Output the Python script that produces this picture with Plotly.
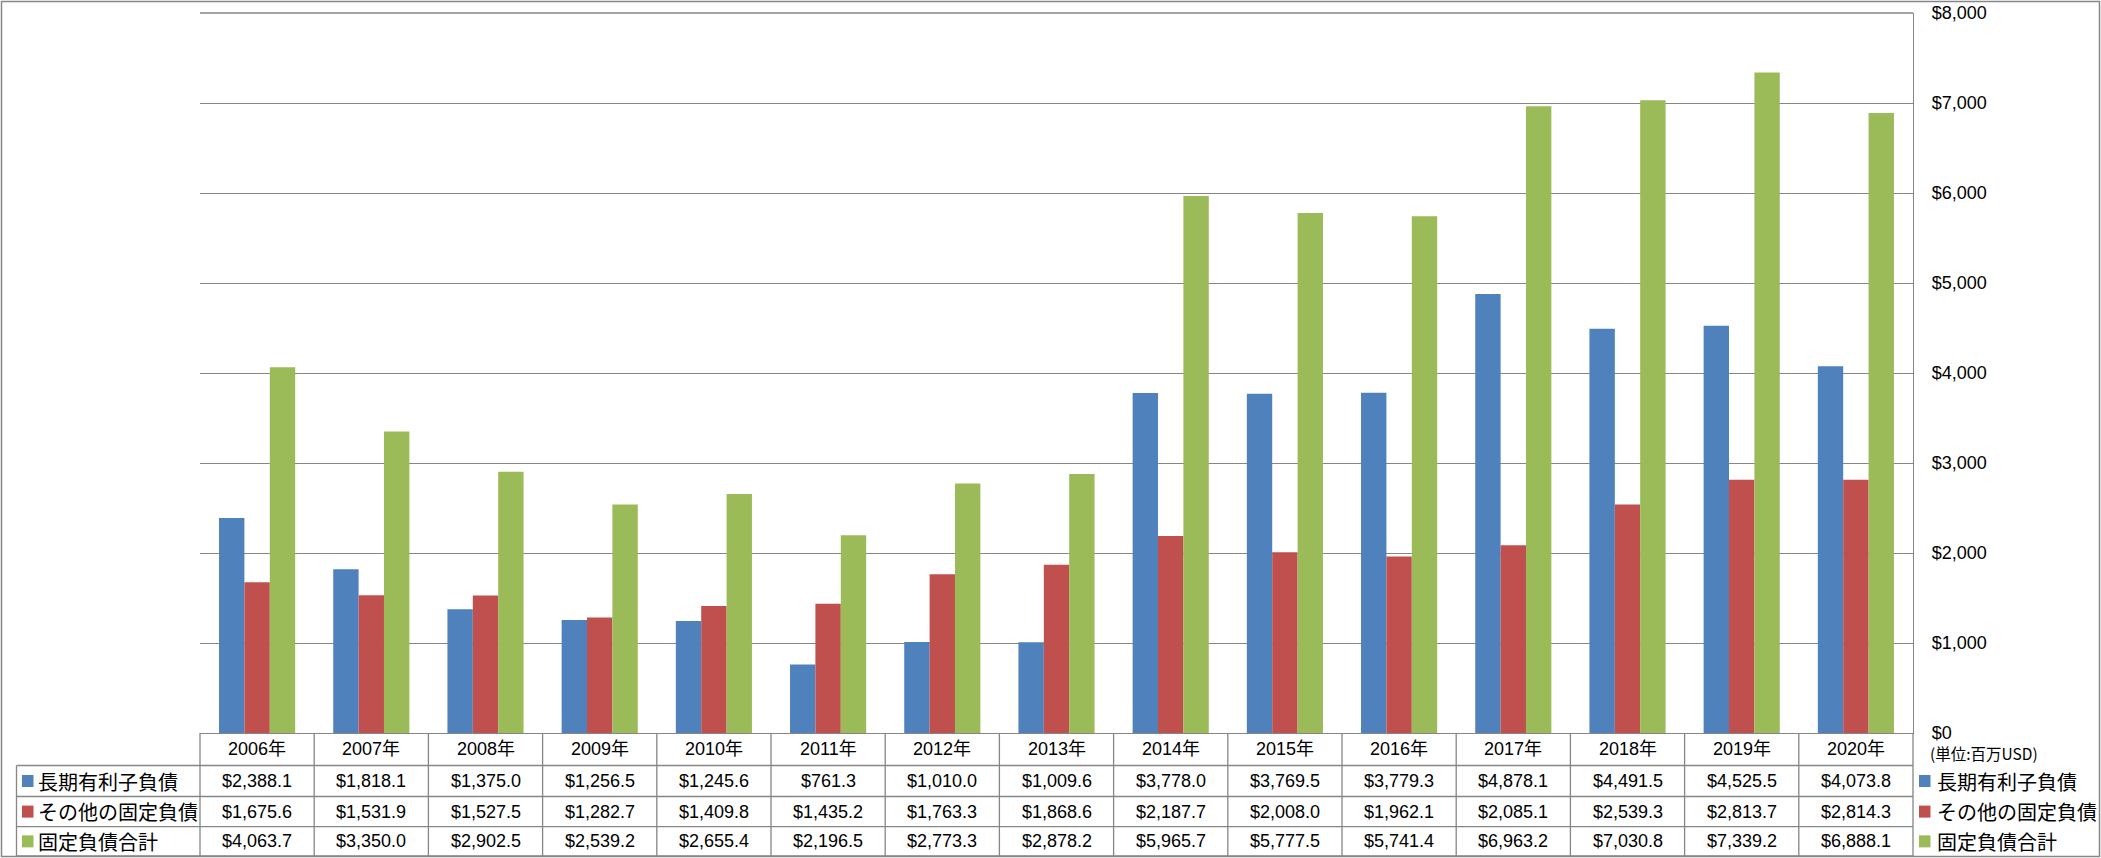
import plotly.graph_objects as go

years = ["2006年", "2007年", "2008年", "2009年", "2010年", "2011年", "2012年", "2013年",
         "2014年", "2015年", "2016年", "2017年", "2018年", "2019年", "2020年"]
series_names = ["長期有利子負債", "その他の固定負債", "固定負債合計"]
long_term_debt = [2388.1, 1818.1, 1375.0, 1256.5, 1245.6, 761.3, 1010.0, 1009.6,
                  3778.0, 3769.5, 3779.3, 4878.1, 4491.5, 4525.5, 4073.8]
other_fixed = [1675.6, 1531.9, 1527.5, 1282.7, 1409.8, 1435.2, 1763.3, 1868.6,
               2187.7, 2008.0, 1962.1, 2085.1, 2539.3, 2813.7, 2814.3]
total_fixed = [4063.7, 3350.0, 2902.5, 2539.2, 2655.4, 2196.5, 2773.3, 2878.2,
               5965.7, 5777.5, 5741.4, 6963.2, 7030.8, 7339.2, 6888.1]
colors = ["#4F81BD", "#C0504D", "#9BBB59"]
unit_label = "(単位:百万USD)"

W, H = 2101, 858
PL, PR, PT, PB = 200, 1913, 13, 733
PW, PH = PR - PL, PB - PT
GRAY = "#868686"
NUM_FONT = "Liberation Sans, Noto Sans CJK JP, sans-serif"
JP_FONT = "Noto Sans CJK JP, sans-serif"


def fx(px):
    return (px - PL) / PW


def fy(py):
    return (PB - py) / PH


fig = go.Figure()
all_series = [long_term_debt, other_fixed, total_fixed]
for name, vals, c in zip(series_names, all_series, colors):
    fig.add_trace(go.Bar(x=years, y=vals, name=name, marker=dict(color=c, line=dict(width=0)),
                         showlegend=False))

# table geometry (pixels)
row_edges = [733, 765.5, 796.5, 826.7, 856]
row_centers = [(row_edges[i] + row_edges[i + 1]) / 2 for i in range(4)]
shapes = []
line = dict(color=GRAY, width=1.3)
# outer border
shapes.append(dict(type="rect", xref="paper", yref="paper", x0=fx(1.5), x1=fx(2099.5),
                   y0=fy(1.5), y1=fy(856.5), line=dict(color=GRAY, width=1.5)))
# top gridline ($8,000) at plot edge
shapes.append(dict(type="line", xref="paper", yref="paper", x0=0, x1=1, y0=1, y1=1, line=line))
# horizontal table lines
for e in row_edges[1:]:
    shapes.append(dict(type="line", xref="paper", yref="paper", x0=fx(16.5), x1=1,
                       y0=fy(e), y1=fy(e), line=line))
# vertical table lines
n = len(years)
for i in range(n + 1):
    shapes.append(dict(type="line", xref="paper", yref="paper", x0=i / n, x1=i / n,
                       y0=0, y1=fy(row_edges[-1]), line=line))
shapes.append(dict(type="line", xref="paper", yref="paper", x0=fx(16.5), x1=fx(16.5),
                   y0=fy(row_edges[1]), y1=fy(row_edges[-1]), line=line))
# legend squares (table row labels and right legend)
for r, c in enumerate(colors):
    yc = row_centers[r + 1]
    for x0 in (22, 1919):
        shapes.append(dict(type="rect", xref="paper", yref="paper", x0=fx(x0), x1=fx(x0 + 11.5),
                           y0=fy(yc - 6), y1=fy(yc + 6), fillcolor=c, line=dict(width=0)))

annotations = []
for yr in years:
    annotations.append(dict(x=yr, xref="x", y=fy(row_centers[0]), yref="paper", text=yr,
                            showarrow=False, xanchor="center", yanchor="middle",
                            font=dict(family=NUM_FONT, size=18, color="black")))
for r, vals in enumerate(all_series):
    for yr, v in zip(years, vals):
        annotations.append(dict(x=yr, xref="x", y=fy(row_centers[r + 1]), yref="paper",
                                text=f"${v:,.1f}", showarrow=False, xanchor="center",
                                yanchor="middle",
                                font=dict(family=NUM_FONT, size=18, color="black")))
    for xpx in (36, 1935):
        annotations.append(dict(x=fx(xpx), xref="paper", y=fy(row_centers[r + 1]), yref="paper",
                                text=series_names[r], showarrow=False, xanchor="left",
                                yanchor="middle",
                                font=dict(family=JP_FONT, size=20, color="black")))
annotations.append(dict(x=fx(1928), xref="paper", y=fy(753), yref="paper", text=unit_label,
                        showarrow=False, xanchor="left", yanchor="middle",
                        font=dict(family=JP_FONT, size=15.5, color="black")))

fig.update_layout(
    width=W, height=H, autosize=False,
    margin=dict(l=PL, r=W - PR, t=PT, b=H - PB, pad=0, autoexpand=False),
    paper_bgcolor="white", plot_bgcolor="white",
    barmode="group", bargap=1 / 3, bargroupgap=0,
    shapes=shapes, annotations=annotations,
    xaxis=dict(type="category", showticklabels=False, showgrid=False, ticks="",
               showline=True, linecolor=GRAY, linewidth=1.3, zeroline=False, automargin=False),
    yaxis=dict(side="right", range=[0, 8000], dtick=1000, tickprefix="$", tickformat=",",
               showgrid=True, gridcolor=GRAY, gridwidth=1.3, zeroline=False,
               showline=True, linecolor=GRAY, linewidth=1.3,
               ticks="outside", ticklen=14, tickcolor="rgba(0,0,0,0)", automargin=False,
               tickfont=dict(family=NUM_FONT, size=18, color="black")),
)

fig.write_html("out.html", config={"displayModeBar": False},
               post_script="document.body.style.margin='0';")
